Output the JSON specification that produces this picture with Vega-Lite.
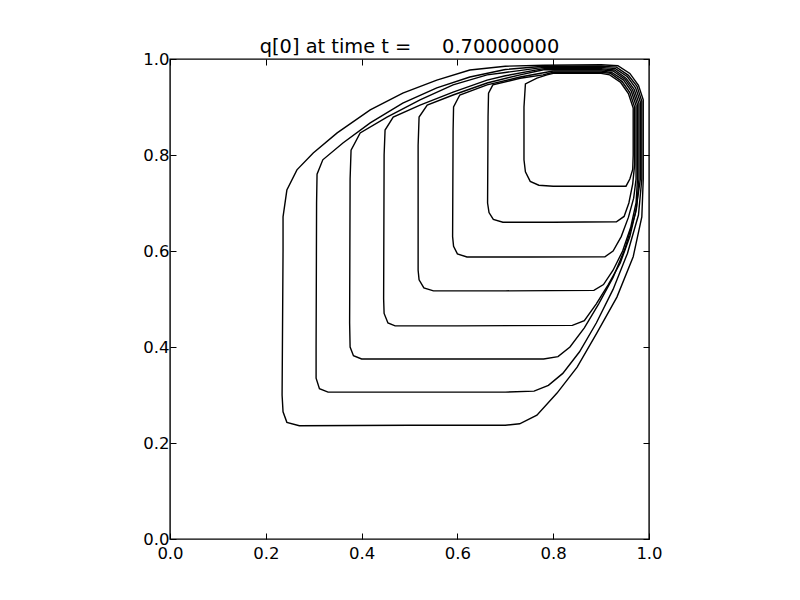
{
  "$schema": "https://vega.github.io/schema/vega-lite/v6.json",
  "autosize": "none",
  "width": 479,
  "height": 480,
  "padding": {"left": 170, "top": 59, "right": 151, "bottom": 61},
  "background": "white",
  "config": {
    "view": {"stroke": "black", "strokeWidth": 1.4},
    "font": "DejaVu Sans",
    "axis": {"grid": false, "domain": false, "labelFont": "DejaVu Sans", "labelFontSize": 16.5, "labelColor": "black", "tickColor": "black", "tickWidth": 1, "tickSize": -6, "labelPadding": 7, "labelFlush": false, "title": null}
  },
  "title": {"text": "q[0] at time t =\u00a0\u00a0\u00a0\u00a0\u00a00.70000000", "font": "DejaVu Sans", "fontSize": 19.4, "fontWeight": "normal", "color": "black", "anchor": "middle", "offset": -6},
  "data": {"values": [
    {"c":0,"o":1,"x":0.78,"y":0.987},{"c":0,"o":2,"x":0.70,"y":0.985},{"c":0,"o":3,"x":0.626,"y":0.977},{"c":0,"o":4,"x":0.557,"y":0.956},{"c":0,"o":5,"x":0.486,"y":0.929},{"c":0,"o":6,"x":0.418,"y":0.894},{"c":0,"o":7,"x":0.349,"y":0.846},{"c":0,"o":8,"x":0.299,"y":0.804},{"c":0,"o":9,"x":0.265,"y":0.769},{"c":0,"o":10,"x":0.244,"y":0.727},{"c":0,"o":11,"x":0.236,"y":0.671},{"c":0,"o":12,"x":0.236,"y":0.60},{"c":0,"o":13,"x":0.234,"y":0.30},{"c":0,"o":14,"x":0.236,"y":0.265},{"c":0,"o":15,"x":0.244,"y":0.243},{"c":0,"o":16,"x":0.27,"y":0.236},{"c":0,"o":17,"x":0.50,"y":0.237},{"c":0,"o":18,"x":0.70,"y":0.237},{"c":0,"o":19,"x":0.73,"y":0.240},{"c":0,"o":20,"x":0.766,"y":0.258},{"c":0,"o":21,"x":0.808,"y":0.304},{"c":0,"o":22,"x":0.850,"y":0.358},{"c":0,"o":23,"x":0.891,"y":0.429},{"c":0,"o":24,"x":0.933,"y":0.504},{"c":0,"o":25,"x":0.967,"y":0.588},{"c":0,"o":26,"x":0.985,"y":0.671},{"c":0,"o":27,"x":0.988,"y":0.75},{"c":0,"o":28,"x":0.988,"y":0.915},{"c":0,"o":29,"x":0.978,"y":0.945},{"c":0,"o":30,"x":0.96,"y":0.97},{"c":0,"o":31,"x":0.935,"y":0.986},{"c":0,"o":32,"x":0.90,"y":0.988},{"c":0,"o":33,"x":0.78,"y":0.987},
    {"c":1,"o":1,"x":0.78,"y":0.985},{"c":1,"o":2,"x":0.70,"y":0.978},{"c":1,"o":3,"x":0.626,"y":0.9625},{"c":1,"o":4,"x":0.557,"y":0.94},{"c":1,"o":5,"x":0.486,"y":0.908},{"c":1,"o":6,"x":0.418,"y":0.867},{"c":1,"o":7,"x":0.361,"y":0.825},{"c":1,"o":8,"x":0.319,"y":0.79},{"c":1,"o":9,"x":0.307,"y":0.76},{"c":1,"o":10,"x":0.306,"y":0.70},{"c":1,"o":11,"x":0.305,"y":0.40},{"c":1,"o":12,"x":0.305,"y":0.335},{"c":1,"o":13,"x":0.312,"y":0.313},{"c":1,"o":14,"x":0.33,"y":0.306},{"c":1,"o":15,"x":0.45,"y":0.306},{"c":1,"o":16,"x":0.70,"y":0.306},{"c":1,"o":17,"x":0.76,"y":0.308},{"c":1,"o":18,"x":0.79,"y":0.32},{"c":1,"o":19,"x":0.82,"y":0.345},{"c":1,"o":20,"x":0.855,"y":0.39},{"c":1,"o":21,"x":0.89,"y":0.45},{"c":1,"o":22,"x":0.925,"y":0.52},{"c":1,"o":23,"x":0.955,"y":0.595},{"c":1,"o":24,"x":0.978,"y":0.675},{"c":1,"o":25,"x":0.985,"y":0.75},{"c":1,"o":26,"x":0.985,"y":0.912},{"c":1,"o":27,"x":0.975,"y":0.943},{"c":1,"o":28,"x":0.957,"y":0.966},{"c":1,"o":29,"x":0.932,"y":0.983},{"c":1,"o":30,"x":0.90,"y":0.985},{"c":1,"o":31,"x":0.78,"y":0.985},
    {"c":2,"o":1,"x":0.78,"y":0.9825},{"c":2,"o":2,"x":0.70,"y":0.972},{"c":2,"o":3,"x":0.662,"y":0.967},{"c":2,"o":4,"x":0.591,"y":0.946},{"c":2,"o":5,"x":0.522,"y":0.915},{"c":2,"o":6,"x":0.453,"y":0.879},{"c":2,"o":7,"x":0.397,"y":0.846},{"c":2,"o":8,"x":0.378,"y":0.81},{"c":2,"o":9,"x":0.376,"y":0.75},{"c":2,"o":10,"x":0.375,"y":0.45},{"c":2,"o":11,"x":0.376,"y":0.40},{"c":2,"o":12,"x":0.383,"y":0.382},{"c":2,"o":13,"x":0.40,"y":0.375},{"c":2,"o":14,"x":0.50,"y":0.375},{"c":2,"o":15,"x":0.78,"y":0.375},{"c":2,"o":16,"x":0.81,"y":0.38},{"c":2,"o":17,"x":0.835,"y":0.40},{"c":2,"o":18,"x":0.865,"y":0.44},{"c":2,"o":19,"x":0.895,"y":0.49},{"c":2,"o":20,"x":0.925,"y":0.545},{"c":2,"o":21,"x":0.95,"y":0.605},{"c":2,"o":22,"x":0.972,"y":0.68},{"c":2,"o":23,"x":0.982,"y":0.75},{"c":2,"o":24,"x":0.982,"y":0.91},{"c":2,"o":25,"x":0.972,"y":0.94},{"c":2,"o":26,"x":0.955,"y":0.963},{"c":2,"o":27,"x":0.93,"y":0.98},{"c":2,"o":28,"x":0.90,"y":0.9825},{"c":2,"o":29,"x":0.78,"y":0.9825},
    {"c":3,"o":1,"x":0.78,"y":0.98},{"c":3,"o":2,"x":0.70,"y":0.965},{"c":3,"o":3,"x":0.662,"y":0.956},{"c":3,"o":4,"x":0.591,"y":0.931},{"c":3,"o":5,"x":0.522,"y":0.904},{"c":3,"o":6,"x":0.466,"y":0.879},{"c":3,"o":7,"x":0.449,"y":0.852},{"c":3,"o":8,"x":0.447,"y":0.80},{"c":3,"o":9,"x":0.446,"y":0.50},{"c":3,"o":10,"x":0.447,"y":0.47},{"c":3,"o":11,"x":0.455,"y":0.45},{"c":3,"o":12,"x":0.47,"y":0.444},{"c":3,"o":13,"x":0.60,"y":0.444},{"c":3,"o":14,"x":0.84,"y":0.445},{"c":3,"o":15,"x":0.865,"y":0.455},{"c":3,"o":16,"x":0.89,"y":0.49},{"c":3,"o":17,"x":0.915,"y":0.53},{"c":3,"o":18,"x":0.94,"y":0.575},{"c":3,"o":19,"x":0.96,"y":0.63},{"c":3,"o":20,"x":0.974,"y":0.69},{"c":3,"o":21,"x":0.979,"y":0.75},{"c":3,"o":22,"x":0.979,"y":0.907},{"c":3,"o":23,"x":0.969,"y":0.937},{"c":3,"o":24,"x":0.952,"y":0.96},{"c":3,"o":25,"x":0.928,"y":0.977},{"c":3,"o":26,"x":0.90,"y":0.98},{"c":3,"o":27,"x":0.78,"y":0.98},
    {"c":4,"o":1,"x":0.78,"y":0.9775},{"c":4,"o":2,"x":0.731,"y":0.967},{"c":4,"o":3,"x":0.662,"y":0.95},{"c":4,"o":4,"x":0.591,"y":0.925},{"c":4,"o":5,"x":0.537,"y":0.904},{"c":4,"o":6,"x":0.520,"y":0.879},{"c":4,"o":7,"x":0.518,"y":0.82},{"c":4,"o":8,"x":0.518,"y":0.56},{"c":4,"o":9,"x":0.520,"y":0.54},{"c":4,"o":10,"x":0.53,"y":0.523},{"c":4,"o":11,"x":0.55,"y":0.517},{"c":4,"o":12,"x":0.70,"y":0.517},{"c":4,"o":13,"x":0.885,"y":0.518},{"c":4,"o":14,"x":0.905,"y":0.53},{"c":4,"o":15,"x":0.925,"y":0.56},{"c":4,"o":16,"x":0.945,"y":0.60},{"c":4,"o":17,"x":0.962,"y":0.65},{"c":4,"o":18,"x":0.973,"y":0.70},{"c":4,"o":19,"x":0.976,"y":0.75},{"c":4,"o":20,"x":0.976,"y":0.905},{"c":4,"o":21,"x":0.966,"y":0.935},{"c":4,"o":22,"x":0.95,"y":0.958},{"c":4,"o":23,"x":0.925,"y":0.975},{"c":4,"o":24,"x":0.90,"y":0.9775},{"c":4,"o":25,"x":0.78,"y":0.9775},
    {"c":5,"o":1,"x":0.80,"y":0.975},{"c":5,"o":2,"x":0.731,"y":0.9625},{"c":5,"o":3,"x":0.662,"y":0.946},{"c":5,"o":4,"x":0.605,"y":0.925},{"c":5,"o":5,"x":0.592,"y":0.90},{"c":5,"o":6,"x":0.591,"y":0.85},{"c":5,"o":7,"x":0.590,"y":0.63},{"c":5,"o":8,"x":0.592,"y":0.61},{"c":5,"o":9,"x":0.60,"y":0.594},{"c":5,"o":10,"x":0.62,"y":0.5875},{"c":5,"o":11,"x":0.75,"y":0.5875},{"c":5,"o":12,"x":0.908,"y":0.588},{"c":5,"o":13,"x":0.925,"y":0.60},{"c":5,"o":14,"x":0.942,"y":0.63},{"c":5,"o":15,"x":0.957,"y":0.67},{"c":5,"o":16,"x":0.968,"y":0.71},{"c":5,"o":17,"x":0.973,"y":0.75},{"c":5,"o":18,"x":0.973,"y":0.903},{"c":5,"o":19,"x":0.963,"y":0.933},{"c":5,"o":20,"x":0.947,"y":0.956},{"c":5,"o":21,"x":0.922,"y":0.972},{"c":5,"o":22,"x":0.90,"y":0.975},{"c":5,"o":23,"x":0.80,"y":0.975},
    {"c":6,"o":1,"x":0.80,"y":0.9725},{"c":6,"o":2,"x":0.779,"y":0.967},{"c":6,"o":3,"x":0.731,"y":0.96},{"c":6,"o":4,"x":0.674,"y":0.946},{"c":6,"o":5,"x":0.665,"y":0.929},{"c":6,"o":6,"x":0.664,"y":0.88},{"c":6,"o":7,"x":0.663,"y":0.70},{"c":6,"o":8,"x":0.666,"y":0.68},{"c":6,"o":9,"x":0.675,"y":0.666},{"c":6,"o":10,"x":0.695,"y":0.660},{"c":6,"o":11,"x":0.80,"y":0.660},{"c":6,"o":12,"x":0.932,"y":0.661},{"c":6,"o":13,"x":0.948,"y":0.672},{"c":6,"o":14,"x":0.958,"y":0.70},{"c":6,"o":15,"x":0.966,"y":0.74},{"c":6,"o":16,"x":0.970,"y":0.78},{"c":6,"o":17,"x":0.970,"y":0.90},{"c":6,"o":18,"x":0.960,"y":0.93},{"c":6,"o":19,"x":0.944,"y":0.953},{"c":6,"o":20,"x":0.92,"y":0.97},{"c":6,"o":21,"x":0.90,"y":0.9725},{"c":6,"o":22,"x":0.80,"y":0.9725},
    {"c":7,"o":1,"x":0.80,"y":0.970},{"c":7,"o":2,"x":0.787,"y":0.967},{"c":7,"o":3,"x":0.766,"y":0.96},{"c":7,"o":4,"x":0.742,"y":0.948},{"c":7,"o":5,"x":0.739,"y":0.90},{"c":7,"o":6,"x":0.739,"y":0.79},{"c":7,"o":7,"x":0.742,"y":0.765},{"c":7,"o":8,"x":0.752,"y":0.745},{"c":7,"o":9,"x":0.77,"y":0.737},{"c":7,"o":10,"x":0.80,"y":0.735},{"c":7,"o":11,"x":0.952,"y":0.735},{"c":7,"o":12,"x":0.960,"y":0.75},{"c":7,"o":13,"x":0.966,"y":0.77},{"c":7,"o":14,"x":0.967,"y":0.80},{"c":7,"o":15,"x":0.967,"y":0.898},{"c":7,"o":16,"x":0.957,"y":0.928},{"c":7,"o":17,"x":0.941,"y":0.951},{"c":7,"o":18,"x":0.918,"y":0.967},{"c":7,"o":19,"x":0.90,"y":0.970},{"c":7,"o":20,"x":0.80,"y":0.970}
  ]},
  "layer": [
    {
      "mark": {"type": "line", "color": "black", "strokeWidth": 1.4, "interpolate": "linear"},
      "encoding": {
        "x": {"field": "x", "type": "quantitative", "scale": {"domain": [0, 1], "nice": false, "zero": false}, "axis": {"orient": "bottom", "values": [0, 0.2, 0.4, 0.6, 0.8, 1.0], "format": ".1f", "labelPadding": 12}},
        "y": {"field": "y", "type": "quantitative", "scale": {"domain": [0, 1], "nice": false, "zero": false}, "axis": {"orient": "left", "values": [0, 0.2, 0.4, 0.6, 0.8, 1.0], "format": ".1f"}},
        "detail": {"field": "c", "type": "nominal"},
        "order": {"field": "o", "type": "quantitative"}
      }
    },
    {
      "mark": {"type": "point", "opacity": 0},
      "encoding": {
        "x": {"field": "x", "type": "quantitative", "axis": {"orient": "top", "values": [0, 0.2, 0.4, 0.6, 0.8, 1.0], "labels": false}},
        "y": {"field": "y", "type": "quantitative", "axis": {"orient": "right", "values": [0, 0.2, 0.4, 0.6, 0.8, 1.0], "labels": false}}
      }
    }
  ],
  "resolve": {"axis": {"x": "independent", "y": "independent"}}
}
